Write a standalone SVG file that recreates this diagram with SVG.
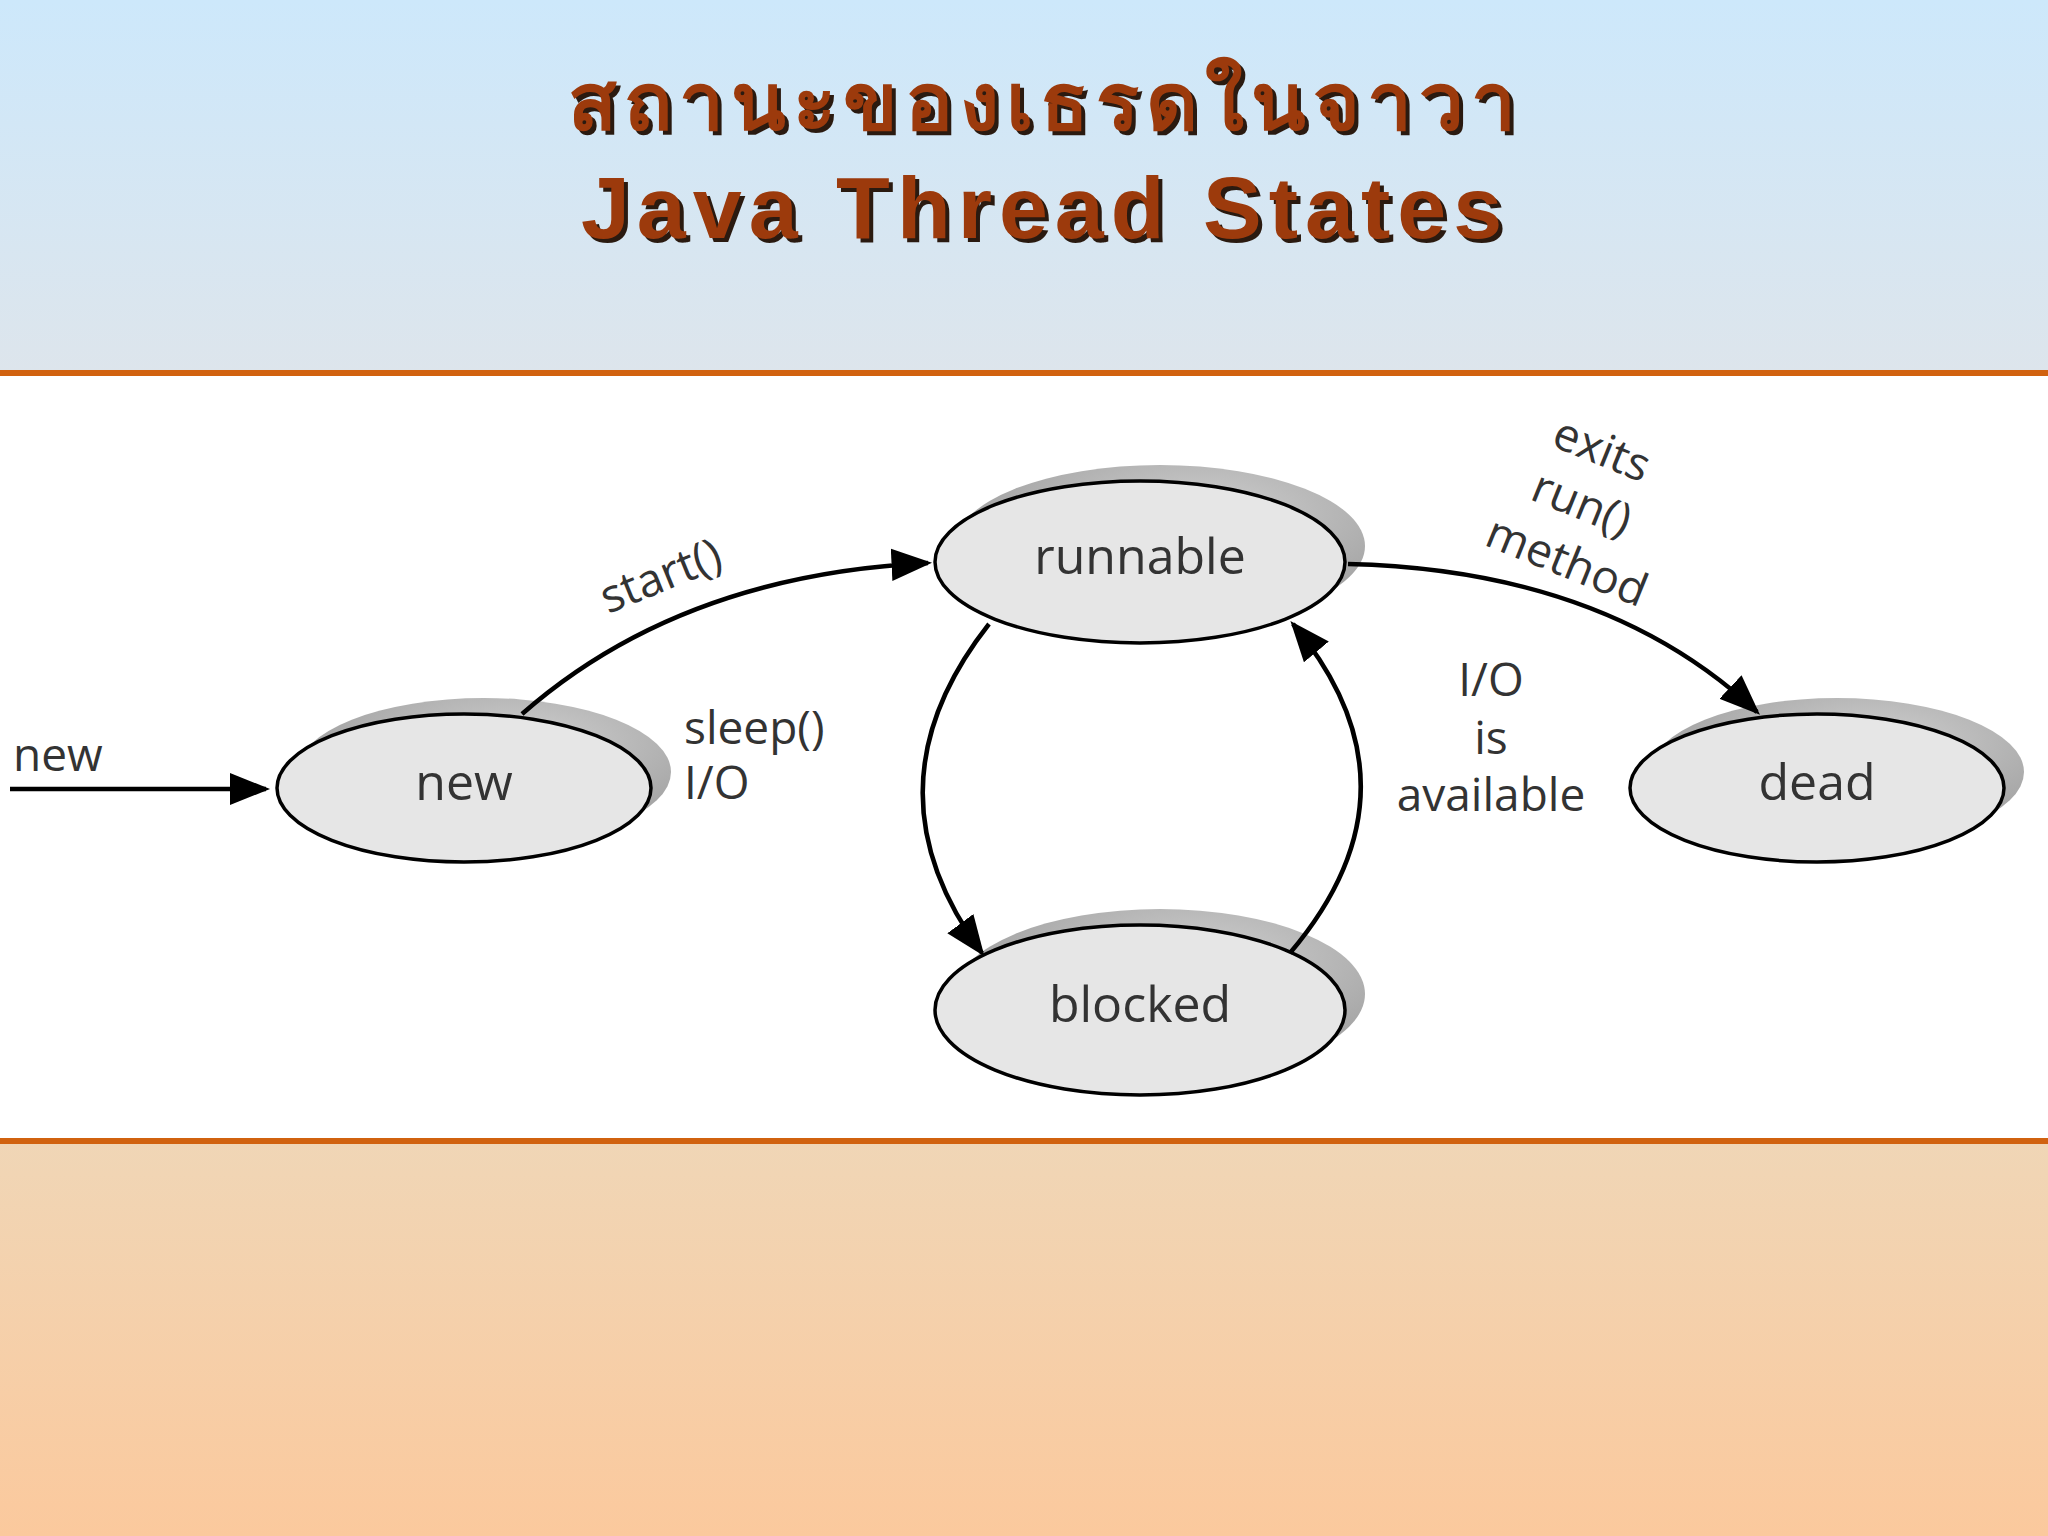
<svg xmlns="http://www.w3.org/2000/svg" width="2048" height="1536" viewBox="0 0 2048 1536">
<defs>
<linearGradient id="top" x1="0" y1="0" x2="0" y2="1"><stop offset="0" stop-color="#cde8fb"/><stop offset="1" stop-color="#dde5ec"/></linearGradient>
<linearGradient id="bot" x1="0" y1="0" x2="0" y2="1"><stop offset="0" stop-color="#f0d6b6"/><stop offset="1" stop-color="#fbc99d"/></linearGradient>
<radialGradient id="sh" cx="0.6" cy="0.3" r="0.7"><stop offset="0" stop-color="#cfcfcf"/><stop offset="1" stop-color="#9a9a9a"/></radialGradient>
<marker id="a" viewBox="0 0 10 10" refX="9" refY="5" markerWidth="9" markerHeight="9" orient="auto"><path d="M0,1 L10,5 L0,9 z" fill="#000"/></marker>
</defs>
<style>
.st{fill:#e6e6e6;stroke:#000;stroke-width:3.5}
.shd{fill:url(#sh)}
.lb{font-family:"Open Sans","DejaVu Sans",sans-serif;font-size:50px;fill:#333;text-anchor:middle}
.el{font-family:"Open Sans","DejaVu Sans",sans-serif;font-size:46px;fill:#333}
.cn{fill:none;stroke:#000;stroke-width:4.5}
.tt{font-family:"Liberation Sans","Noto Sans",sans-serif;font-weight:bold;fill:#9c3a0c;text-anchor:middle;letter-spacing:7px}
.ts{font-family:"Liberation Sans","Noto Sans",sans-serif;font-weight:bold;fill:#2a1a10;text-anchor:middle;letter-spacing:7px}
</style>
<rect x="0" y="0" width="2048" height="372" fill="url(#top)"/>
<rect x="0" y="376" width="2048" height="762" fill="#fff"/>
<rect x="0" y="1142" width="2048" height="394" fill="url(#bot)"/>
<rect x="0" y="370" width="2048" height="6" fill="#d1620f"/>
<rect x="0" y="1138" width="2048" height="6" fill="#d1620f"/>
<g id="title">
<text class="ts" x="1049" y="134" font-size="80">สถานะของเธรดในจาวา</text>
<text class="tt" x="1045" y="130" font-size="80">สถานะของเธรดในจาวา</text>
<text class="ts" x="1049" y="242" font-size="88">Java Thread States</text>
<text class="tt" x="1045" y="238" font-size="88">Java Thread States</text>
</g>
<g id="new">
<ellipse class="shd" cx="484" cy="772" rx="187" ry="74"/>
<ellipse class="st" cx="464" cy="788" rx="187" ry="74"/>
<text class="lb" x="464" y="800">new</text>
</g>
<g id="runnable">
<ellipse class="shd" cx="1160" cy="546" rx="205" ry="81"/>
<ellipse class="st" cx="1140" cy="562" rx="205" ry="81"/>
<text class="lb" x="1140" y="574">runnable</text>
</g>
<g id="blocked">
<ellipse class="shd" cx="1160" cy="994" rx="205" ry="85"/>
<ellipse class="st" cx="1140" cy="1010" rx="205" ry="85"/>
<text class="lb" x="1140" y="1022">blocked</text>
</g>
<g id="dead">
<ellipse class="shd" cx="1837" cy="772" rx="187" ry="74"/>
<ellipse class="st" cx="1817" cy="788" rx="187" ry="74"/>
<text class="lb" x="1817" y="800">dead</text>
</g>
<g id="connectors">
<path class="cn" d="M10,789 L266,789" marker-end="url(#a)"/>
<path class="cn" d="M522,714 Q680,575 928,563" marker-end="url(#a)"/>
<path class="cn" d="M1348,564 Q1606,570 1757,712" marker-end="url(#a)"/>
<path class="cn" d="M989,624 Q860,788 982,953" marker-end="url(#a)"/>
<path class="cn" d="M1290,953 Q1430,788 1293,624" marker-end="url(#a)"/>
</g>
<g id="labels">
<text class="el" x="0" y="0" transform="translate(608,614) rotate(-22)" font-size="48">start()</text>
<text class="el" x="13" y="771">new</text>
<text class="el" x="684" y="744">sleep()</text>
<text class="el" x="684" y="799">I/O</text>
<text class="el" x="1491" y="696" text-anchor="middle">I/O</text>
<text class="el" x="1491" y="754" text-anchor="middle">is</text>
<text class="el" x="1491" y="811" text-anchor="middle">available</text>
<text class="el" x="0" y="0" transform="translate(1596,464) rotate(22)" text-anchor="middle">exits</text>
<text class="el" x="0" y="0" transform="translate(1576,518) rotate(22)" text-anchor="middle">run()</text>
<text class="el" x="0" y="0" transform="translate(1561,576) rotate(22)" text-anchor="middle">method</text>
</g>
</svg>
